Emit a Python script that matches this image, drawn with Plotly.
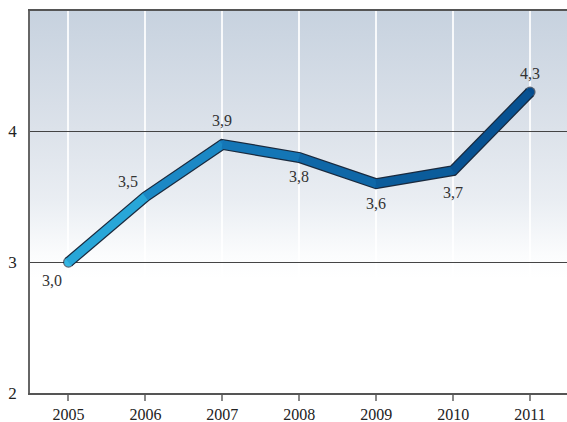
import base64
import plotly.graph_objects as go

years = [2005, 2006, 2007, 2008, 2009, 2010, 2011]
values = [3.0, 3.5, 3.9, 3.8, 3.6, 3.7, 4.3]
labels = ["3,0", "3,5", "3,9", "3,8", "3,6", "3,7", "4,3"]
y_ticks = [2, 3, 4]

# label offsets in pixels (dx, dy)
label_shift = [(-16, -18), (-17, 15), (0, 24), (0, -19), (0, -20), (0, -22), (0, 19)]
point_colors = ["#35b6e2", "#1f95cd", "#187cbd", "#1170b0", "#0c5f9f", "#0a5998", "#064c8e"]
seg_colors = ["#28a6d8", "#1b88c5", "#1476b6", "#0f67a7", "#0b5c9b", "#085292"]

Y_MIN, Y_MAX = 2, 4.92
X_MIN, X_MAX = 2004.5, 2011.48
FONT = "Liberation Serif"

svg = (
    '<svg xmlns="http://www.w3.org/2000/svg" width="100" height="100" preserveAspectRatio="none">'
    '<defs><linearGradient id="g" x1="0" y1="0" x2="0" y2="1">'
    '<stop offset="0" stop-color="#c7d2df"/>'
    '<stop offset="0.31" stop-color="#dce2ea"/>'
    '<stop offset="0.5" stop-color="#eaeef3"/>'
    '<stop offset="0.64" stop-color="#fbfcfd"/>'
    '<stop offset="0.7" stop-color="#ffffff"/>'
    '<stop offset="1" stop-color="#ffffff"/>'
    '</linearGradient></defs>'
    '<rect x="0" y="0" width="100" height="100" fill="url(#g)"/></svg>'
)
src = "data:image/svg+xml;base64," + base64.b64encode(svg.encode()).decode()

fig = go.Figure()

n = len(years)
fig.add_trace(go.Scatter(
    x=years, y=values, mode="lines+markers",
    line=dict(color="#1a2a3e", width=11),
    marker=dict(size=[11] + [0] * (n - 2) + [11], color="#1a2a3e", line=dict(width=0)),
    hoverinfo="skip", showlegend=False,
))
fig.add_trace(go.Scatter(
    x=years, y=values, mode="markers",
    marker=dict(size=8.5, color=point_colors, line=dict(width=0)),
    hoverinfo="skip", showlegend=False,
))
for i in range(n - 1):
    fig.add_trace(go.Scatter(
        x=years[i:i + 2], y=values[i:i + 2], mode="lines",
        line=dict(color=seg_colors[i], width=8.5),
        hoverinfo="skip", showlegend=False,
    ))

for x, y, t, (dx, dy) in zip(years, values, labels, label_shift):
    fig.add_annotation(
        x=x, y=y, text=t, showarrow=False, xshift=dx, yshift=dy,
        font=dict(family=FONT, size=16, color="#333333"),
    )

fig.add_layout_image(dict(
    source=src, xref="x", yref="y", x=X_MIN, y=Y_MAX,
    sizex=X_MAX - X_MIN, sizey=Y_MAX - Y_MIN, sizing="stretch",
    xanchor="left", yanchor="top", layer="below",
))

fig.update_layout(
    width=567, height=422,
    margin=dict(l=30, r=0, t=11, b=29, autoexpand=False),
    paper_bgcolor="white", plot_bgcolor="white",
    font=dict(family=FONT, size=15, color="#222222"),
    xaxis=dict(
        range=[X_MIN, X_MAX], tickmode="array", tickvals=years,
        ticktext=[str(y) for y in years],
        showgrid=True, gridcolor="rgba(255,255,255,0.85)", gridwidth=2,
        showline=True, linecolor="#555555", linewidth=1.5, mirror=True,
        ticks="outside", ticklen=6, tickcolor="#888888", tickwidth=1.5,
        zeroline=False, fixedrange=True,
        tickfont=dict(family=FONT, size=16, color="#222222"),
    ),
    yaxis=dict(
        range=[Y_MIN, Y_MAX], tickmode="array", tickvals=y_ticks,
        ticktext=[str(v) for v in y_ticks],
        showgrid=True, gridcolor="#444444", gridwidth=1,
        showline=True, linecolor="#666666", linewidth=1.5,
        ticks="", zeroline=False, fixedrange=True, ticklabelstandoff=8,
        tickfont=dict(family=FONT, size=17, color="#222222"),
    ),
)

fig.write_html(
    "out.html",
    config={"displayModeBar": False},
    post_script="document.body.style.margin='0';document.body.style.padding='0';",
)
